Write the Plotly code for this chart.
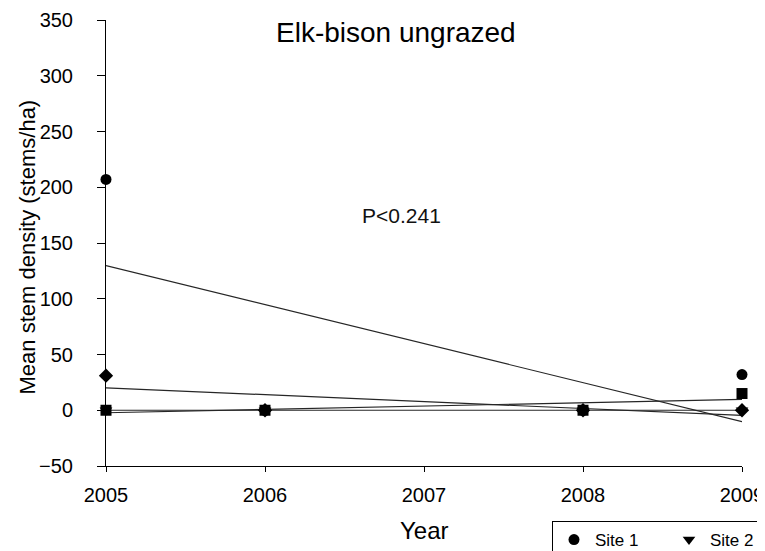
import numpy as np
import plotly.graph_objects as go

years = [2005, 2006, 2008, 2009]
site1 = [207, 0, 0, 32]
site2 = [0, 0, 0, 0]
site3 = [0, 0, 0, 15]
site4 = [31, 0, 0, 0]

series = [
    ("Site 1", site1, "circle"),
    ("Site 2", site2, "triangle-down"),
    ("Site 3", site3, "square"),
    ("Site 4", site4, "diamond"),
]

FONT = "Liberation Sans, Arial, sans-serif"
W, H = 757, 543  # page body has an 8px margin in the 765x551 window
fig = go.Figure()

xfit = np.array([2005, 2009])
for name, vals, sym in series:
    slope, icpt = np.polyfit(years, vals, 1)
    fig.add_trace(go.Scatter(
        x=xfit, y=slope * xfit + icpt, mode="lines",
        line=dict(color="#262626", width=1.2),
        showlegend=False, hoverinfo="skip", cliponaxis=False))

for name, vals, sym in series:
    fig.add_trace(go.Scatter(
        x=years, y=vals, mode="markers", name=name,
        marker=dict(symbol=sym, size=11, color="black"),
        cliponaxis=False))

fig.add_annotation(text="Elk-bison ungrazed", xref="paper", yref="paper",
                   x=0.456, y=0.971, yanchor="middle", showarrow=False,
                   font=dict(family=FONT, size=28, color="black"))
fig.add_annotation(text="P<0.241", xref="x", yref="y",
                   x=2006.86, y=175, yanchor="middle", showarrow=False,
                   font=dict(family=FONT, size=21, color="#111111"))
fig.add_annotation(text="Year", xref="paper", yref="paper",
                   x=0.5, y=-0.1435, xanchor="center", yanchor="middle",
                   showarrow=False, font=dict(family=FONT, size=24, color="black"))
fig.add_annotation(text="Mean stem density (stems/ha)", xref="paper", yref="paper",
                   x=-0.1242, y=0.49, xanchor="center", yanchor="middle", textangle=-90,
                   showarrow=False, font=dict(family=FONT, size=22, color="black"))

fig.update_layout(
    width=W, height=H,
    margin=dict(l=98, r=23, t=12, b=H - 458, autoexpand=False),
    plot_bgcolor="white", paper_bgcolor="white",
    font=dict(family=FONT, size=20, color="black"),
    xaxis=dict(range=[2005, 2009], tickvals=[2005, 2006, 2007, 2008, 2009],
               showline=True, linecolor="black", linewidth=1,
               ticks="outside", ticklen=5, tickcolor="black",
               ticklabelstandoff=6, ticklabeloverflow="allow",
               showgrid=False, zeroline=False,
               tickfont=dict(size=20)),
    yaxis=dict(range=[-50, 350], tickvals=list(range(-50, 351, 50)),
               showline=True, linecolor="black", linewidth=1,
               ticks="outside", ticklen=8, tickcolor="black",
               ticklabelstandoff=20,
               showgrid=False, zeroline=False,
               tickfont=dict(size=20)),
    legend=dict(orientation="h", xref="container", yref="container",
                x=544 / W, y=1 - 513 / H, xanchor="left", yanchor="top",
                bordercolor="black", borderwidth=1, bgcolor="white",
                font=dict(size=17), itemwidth=32,
                entrywidth=68, entrywidthmode="pixels"),
)

fig.write_html("out.html")
